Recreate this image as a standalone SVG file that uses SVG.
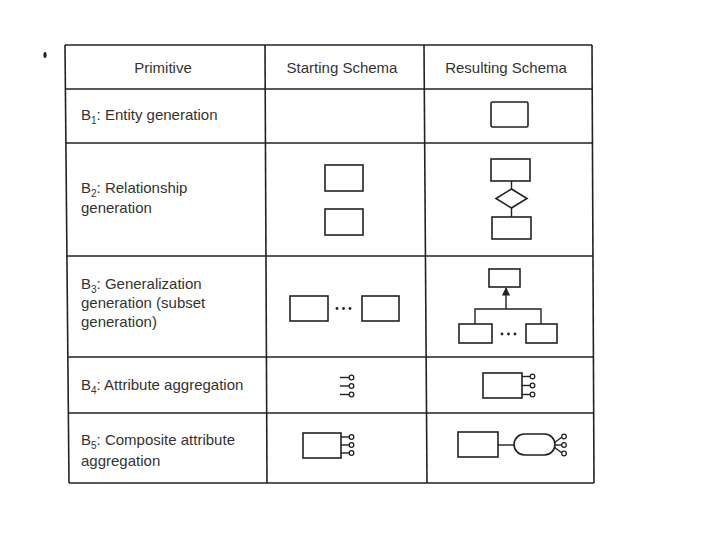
<svg xmlns="http://www.w3.org/2000/svg" width="720" height="540" viewBox="0 0 720 540">
<style>
  text { font-family: "Liberation Sans", Arial, sans-serif; font-size: 15px; fill: #333; }
  .sub { font-size: 10px; }
  .grid { stroke: #222; stroke-width: 1.6; fill: none; }
  .shape { stroke: #222; stroke-width: 1.6; fill: #fff; }
  .ln { stroke: #222; stroke-width: 1.4; fill: none; }
  .att { stroke: #222; stroke-width: 1.3; fill: #fff; }
</style>
<defs>
  <marker id="arr" viewBox="0 0 10 10" refX="9" refY="5" markerWidth="6" markerHeight="6" orient="auto">
    <path d="M0,0 L10,5 L0,10 z" fill="#222"/>
  </marker>
</defs>
<rect width="720" height="540" fill="#fff"/>
<ellipse cx="45" cy="55" rx="1.6" ry="3" fill="#222"/>

<g id="table">
  <line class="grid" x1="65" y1="45" x2="69" y2="483" stroke-width="2"/>
  <line class="grid" x1="592" y1="45" x2="594" y2="483" stroke-width="2"/>
  <line class="grid" x1="265" y1="45" x2="267" y2="483"/>
  <line class="grid" x1="424" y1="45" x2="427" y2="483"/>
  <line class="grid" x1="65" y1="45" x2="592" y2="45" stroke-width="2"/>
  <line class="grid" x1="65.4" y1="89" x2="592.2" y2="89"/>
  <line class="grid" x1="65.9" y1="143" x2="592.4" y2="143"/>
  <line class="grid" x1="66.9" y1="256" x2="593" y2="256"/>
  <line class="grid" x1="67.8" y1="357" x2="593.4" y2="357"/>
  <line class="grid" x1="68.4" y1="413" x2="593.7" y2="413"/>
  <line class="grid" x1="69" y1="483" x2="594" y2="483" stroke-width="2"/>
</g>

<g id="header">
  <text x="163" y="73" text-anchor="middle">Primitive</text>
  <text x="342" y="73" text-anchor="middle">Starting Schema</text>
  <text x="506" y="73" text-anchor="middle">Resulting Schema</text>
</g>

<g id="labels">
  <text x="81" y="120">B<tspan class="sub" dy="4">1</tspan><tspan dy="-4">: Entity generation</tspan></text>
  <text x="81" y="193">B<tspan class="sub" dy="4">2</tspan><tspan dy="-4">: Relationship</tspan></text>
  <text x="81" y="213">generation</text>
  <text x="81" y="289">B<tspan class="sub" dy="4">3</tspan><tspan dy="-4">: Generalization</tspan></text>
  <text x="81" y="308">generation (subset</text>
  <text x="81" y="327">generation)</text>
  <text x="81" y="390">B<tspan class="sub" dy="4">4</tspan><tspan dy="-4">: Attribute aggregation</tspan></text>
  <text x="81" y="445">B<tspan class="sub" dy="4">5</tspan><tspan dy="-4">: Composite attribute</tspan></text>
  <text x="81" y="466">aggregation</text>
</g>

<g id="b1-result">
  <rect class="shape" x="491" y="102" width="37" height="25" rx="1.5"/>
</g>

<g id="b2-start">
  <rect class="shape" x="325" y="165" width="38" height="26"/>
  <rect class="shape" x="325" y="209" width="38" height="26"/>
</g>
<g id="b2-result">
  <line class="ln" x1="511.5" y1="181" x2="511.5" y2="189"/>
  <line class="ln" x1="511.5" y1="208" x2="511.5" y2="217"/>
  <rect class="shape" x="491" y="159" width="39" height="22"/>
  <polygon class="shape" points="511.5,189 527,198.5 511.5,208 496,198.5"/>
  <rect class="shape" x="492" y="217" width="39" height="22"/>
</g>

<g id="b3-start">
  <rect class="shape" x="290" y="296" width="38" height="25"/>
  <rect class="shape" x="362" y="296" width="37" height="25"/>
  <circle cx="337" cy="308.5" r="1.4" fill="#222"/>
  <circle cx="343.5" cy="308.5" r="1.4" fill="#222"/>
  <circle cx="350" cy="308.5" r="1.4" fill="#222"/>
</g>
<g id="b3-result">
  <rect class="shape" x="489" y="269" width="31" height="18"/>
  <line class="ln" x1="506" y1="309" x2="506" y2="288" marker-end="url(#arr)"/>
  <polyline class="ln" points="475,324 475,309 541,309 541,324"/>
  <rect class="shape" x="459" y="324" width="33" height="19"/>
  <rect class="shape" x="526" y="324" width="31" height="19"/>
  <circle cx="502" cy="334" r="1.4" fill="#222"/>
  <circle cx="508.5" cy="334" r="1.4" fill="#222"/>
  <circle cx="515" cy="334" r="1.4" fill="#222"/>
</g>

<g id="b4-start">
  <line class="ln" x1="340" y1="377.5" x2="349" y2="377.5"/>
  <line class="ln" x1="340" y1="386" x2="349" y2="386"/>
  <line class="ln" x1="340" y1="394.5" x2="349" y2="394.5"/>
  <circle class="att" cx="351.5" cy="377.5" r="2.3"/>
  <circle class="att" cx="351.5" cy="386" r="2.3"/>
  <circle class="att" cx="351.5" cy="394.5" r="2.3"/>
</g>
<g id="b4-result">
  <rect class="shape" x="483" y="373" width="39" height="25"/>
  <line class="ln" x1="522" y1="376.5" x2="530" y2="376.5"/>
  <line class="ln" x1="522" y1="385.5" x2="530" y2="385.5"/>
  <line class="ln" x1="522" y1="394.5" x2="530" y2="394.5"/>
  <circle class="att" cx="532.5" cy="376.5" r="2.3"/>
  <circle class="att" cx="532.5" cy="385.5" r="2.3"/>
  <circle class="att" cx="532.5" cy="394.5" r="2.3"/>
</g>

<g id="b5-start">
  <rect class="shape" x="303" y="433" width="38" height="25"/>
  <line class="ln" x1="341" y1="437" x2="349" y2="437"/>
  <line class="ln" x1="341" y1="445" x2="349" y2="445"/>
  <line class="ln" x1="341" y1="453" x2="349" y2="453"/>
  <circle class="att" cx="351.5" cy="437" r="2.3"/>
  <circle class="att" cx="351.5" cy="445" r="2.3"/>
  <circle class="att" cx="351.5" cy="453" r="2.3"/>
</g>
<g id="b5-result">
  <rect class="shape" x="458" y="432" width="40" height="25"/>
  <line class="ln" x1="498" y1="445" x2="514" y2="445"/>
  <rect class="shape" x="514" y="434" width="41" height="21" rx="10.5"/>
  <line class="ln" x1="554" y1="443" x2="562" y2="437"/>
  <line class="ln" x1="555" y1="445" x2="562" y2="445"/>
  <line class="ln" x1="554" y1="447" x2="562" y2="453"/>
  <circle class="att" cx="564" cy="436.5" r="2.3"/>
  <circle class="att" cx="564" cy="445" r="2.3"/>
  <circle class="att" cx="564" cy="453.5" r="2.3"/>
</g>
</svg>
